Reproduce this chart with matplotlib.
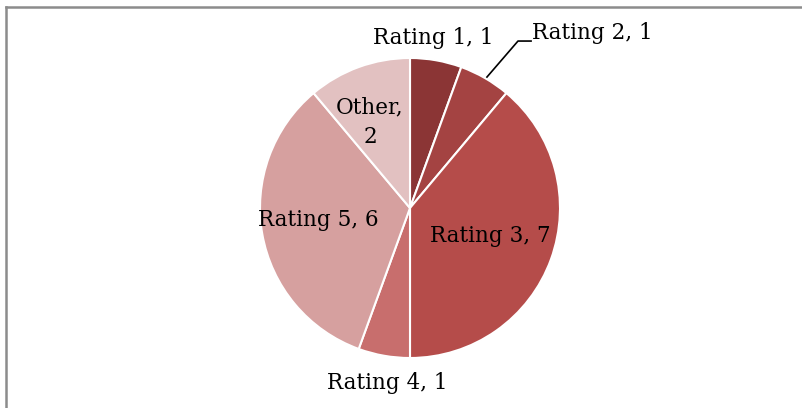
import matplotlib
matplotlib.use("Agg")
import matplotlib.pyplot as plt
from matplotlib.lines import Line2D

labels = ["Rating 1", "Rating 2", "Rating 3", "Rating 4", "Rating 5", "Other"]
values = [1, 1, 7, 1, 6, 2]
colors = ["#8b3535", "#a44342", "#b54c4a", "#c86e6d", "#d6a09f", "#e2c1c1"]

# label positions in pie units (radius = 1)
label_pos = [(0.153, 1.133), (1.213, 1.167), (0.533, -0.187),
             (-0.153, -1.167), (-0.613, -0.08), (-0.267, 0.573)]

W, H = 803, 408
fig = plt.figure(figsize=(W / 100, H / 100), dpi=100)
cx, cy, r = 410, 208, 150
ax = fig.add_axes([(cx - r) / W, (H - cy - r) / H, 2 * r / W, 2 * r / H])

ax.pie(values, colors=colors, startangle=90, counterclock=False,
       wedgeprops=dict(edgecolor="white", linewidth=1.5))
ax.set_xlim(-1, 1)
ax.set_ylim(-1, 1)
ax.axis("off")

for lab, v, (x, y) in zip(labels, values, label_pos):
    txt = f"{lab},\n{v}" if lab == "Other" else f"{lab}, {v}"
    ax.text(x, y, txt, ha="center", va="center", fontsize=15.5,
            family="DejaVu Serif", clip_on=False, linespacing=1.45)

# leader line for Rating 2
ax.plot([0.513, 0.72, 0.807], [0.873, 1.113, 1.113], color="black",
        lw=1.2, clip_on=False)

# chart frame (top and left edges visible)
fig.add_artist(Line2D([6.5 / W, 1], [1 - 6.5 / H, 1 - 6.5 / H], color="#8c8c8c", lw=1.8))
fig.add_artist(Line2D([6.5 / W, 6.5 / W], [0, 1 - 6.5 / H], color="#8c8c8c", lw=1.8))

fig.savefig("out.png", dpi=100)
